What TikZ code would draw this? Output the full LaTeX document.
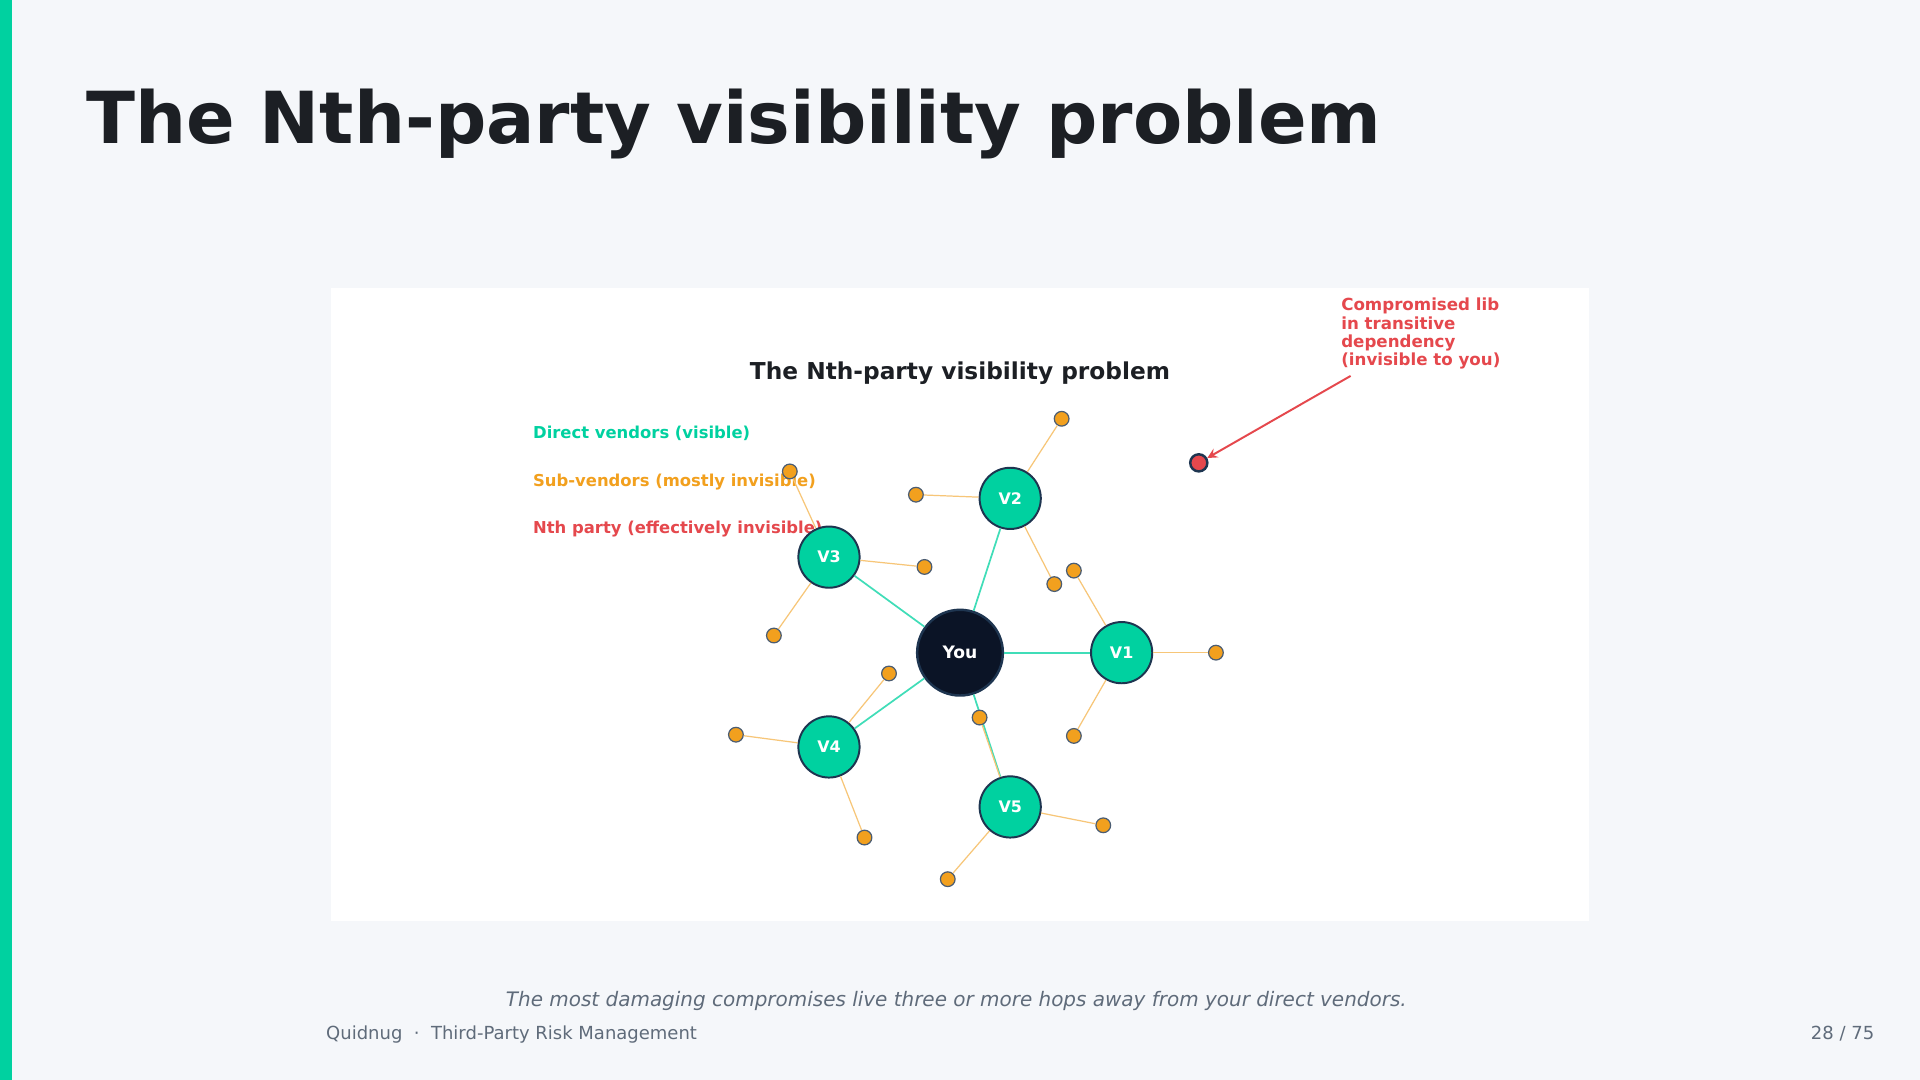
\documentclass[tikz,border=0pt]{standalone}
\usepackage{fontspec}
\setmainfont{DejaVu Sans}
\begin{document}
\definecolor{bg}{HTML}{F5F7FA}
\definecolor{teal}{HTML}{00D1A0}
\definecolor{dark}{HTML}{0B1426}
\definecolor{navy}{HTML}{1E3550}
\definecolor{org}{HTML}{F2A01E}
\definecolor{redc}{HTML}{E5484D}
\definecolor{gray}{HTML}{5F6B7A}
\definecolor{ttl}{HTML}{1C1F24}
\begin{tikzpicture}[x=0.5pt,y=-0.5pt,
 vend/.style={circle,fill=teal,draw=navy,line width=0.8pt,minimum size=25pt,inner sep=0,text=white,font=\bfseries\fontsize{6.5}{7}\selectfont},
 sub/.style={circle,fill=org,draw=navy!80,line width=0.5pt,minimum size=6pt,inner sep=0},
 tl/.style={draw=teal!75,line width=0.7pt},
 ol/.style={draw=org!60,line width=0.5pt},
 leg/.style={anchor=base west,inner sep=0,font=\bfseries\fontsize{6.7}{7}\selectfont}]
\fill[bg] (0,0) rectangle (1568,882);
\fill[teal] (0,0) rectangle (10,882);
\node[anchor=base west,inner sep=0,font=\bfseries\fontsize{29.3}{32}\selectfont,text=ttl] (title) at (70,117) {The Nth-party visibility problem};
\fill[white] (270,235) rectangle (1298,752);
\node[font=\bfseries\fontsize{9.5}{11}\selectfont,text=ttl,anchor=base,inner sep=0] (st) at (784,310) {The Nth-party visibility problem};
\node[leg,text=teal] (l1) at (435,358) {Direct vendors (visible)};
\node[leg,text=org] (l2) at (435,397) {Sub-vendors (mostly invisible)};
\node[leg,text=redc] (l3) at (435,436) {Nth party (effectively invisible)};
\node[circle,fill=dark,draw=navy,line width=1pt,minimum size=35pt,text=white,font=\bfseries\fontsize{7}{8}\selectfont] (you) at (784,533) {You};
\node[vend] (v1) at (916,533) {V1};
\node[vend] (v2) at (825,407) {V2};
\node[vend] (v3) at (677,455) {V3};
\node[vend] (v4) at (677,610) {V4};
\node[vend] (v5) at (825,659) {V5};
\foreach \v in {v1,v2,v3,v4,v5} \draw[tl] (you) -- (\v);
\foreach \n/\p/\x/\y in {a/v2/867/342,b/v2/748/404,c/v2/861/477,d/v1/877/466,e/v1/993/533,f/v1/877/601,g/v3/645/385,h/v3/755/463,i/v3/632/519,j/v4/726/550,k/v4/601/600,l/v4/706/684,m/v5/800/586,n/v5/901/674,o/v5/774/718}{
 \node[sub] (\n) at (\x,\y) {};
 \draw[ol] (\p) -- (\n);}
\node[circle,fill=redc,draw=navy,line width=1pt,minimum size=7pt,inner sep=0] (nth) at (979,378) {};
\node[anchor=north west,align=left,text=redc,font=\bfseries\fontsize{6.8}{7.5}\selectfont,inner sep=0] (ann) at (1095,243) {Compromised lib\\in transitive\\dependency\\(invisible to you)};
\coordinate (as) at (1103,307);
\draw[redc,line width=0.8pt,-stealth] (as) -- (nth);
\node[font=\itshape\fontsize{8.15}{9}\selectfont,text=gray,anchor=base,inner sep=0] (cap) at (781,822) {The most damaging compromises live three or more hops away from your direct vendors.};
\node[font=\fontsize{7.35}{8}\selectfont,text=gray,anchor=base west,inner sep=0] (f1) at (266,849) {Quidnug\ \ ·\ \ Third-Party Risk Management};
\node[font=\fontsize{7.35}{8}\selectfont,text=gray,anchor=base east,inner sep=0] (f2) at (1531,849) {28 / 75};
\end{tikzpicture}
\end{document}
